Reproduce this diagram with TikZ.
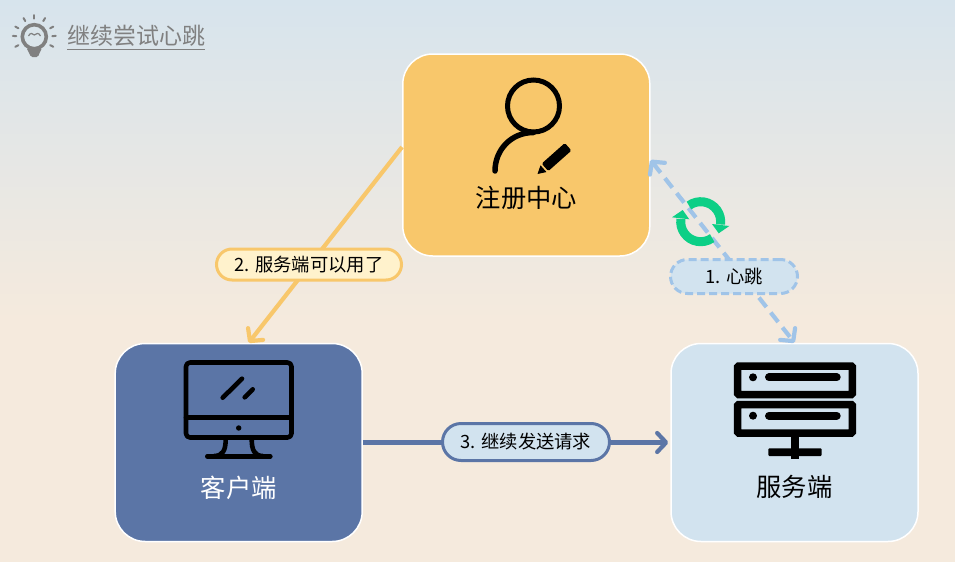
\documentclass[tikz,border=0pt]{standalone}
\usepackage{fontspec}
\setmainfont{Noto Sans CJK SC}
\usetikzlibrary{arrows.meta}
\definecolor{regcolor}{HTML}{F8C76B}
\definecolor{notifycolor}{HTML}{FFF2CC}
\definecolor{clientcolor}{HTML}{5B75A6}
\definecolor{servercolor}{HTML}{D2E3EF}
\definecolor{heartcolor}{HTML}{A0C4E8}
\definecolor{synccolor}{HTML}{0CCF86}
\definecolor{hintcolor}{HTML}{808080}
\definecolor{bgtop}{HTML}{D7E4ED}
\definecolor{bgbottom}{HTML}{F5EADD}

\begin{document}
\begin{tikzpicture}[
  x=1pt, y=-1pt,
  boxnode/.style={draw=white, line width=1.5pt, rounded corners=30pt, minimum width=247pt},
  boxlabel/.style={font=\fontsize{25.3}{25.3}\selectfont, inner sep=0pt},
  pilllabel/.style={line width=3pt, rounded corners=15.5pt, minimum height=31pt, inner sep=0pt, font=\fontsize{18.3}{18.3}\selectfont},
  link/.style={line width=4.2pt, -{Straight Barb[length=9pt,width=19pt,round]}},
  iconline/.style={line width=4.6pt, line cap=round, line join=round},
]

% Background
\shade[top color=bgtop, bottom color=bgbottom] (0,0) rectangle (955,320);
\fill[bgbottom] (0,319.5) rectangle (955,562);
\useasboundingbox (0,0) rectangle (955,560);

% Title with bulb
\coordinate (bulb) at (34.3,36.7);
\draw[hintcolor, line width=3.6pt] (bulb) circle[radius=12pt];
\foreach \a in {90,60,120,28,152,2,178,-28,208} {
  \draw[hintcolor, line width=2pt, line cap=round] ([shift={(\a:18pt)}]bulb) -- ([shift={(\a:21.5pt)}]bulb);
}
\draw[hintcolor, line width=1.2pt] (28.5,36) .. controls (30,32.5) and (33,33) .. (34.3,35) .. controls (36,33) and (39,32.5) .. (40.5,36);
\fill[hintcolor, rounded corners=1.5pt] (26.5,48) -- (42,48) -- (39.5,53) -- (38,57) -- (31,57) -- (29,53) -- cycle;
\node[text=hintcolor, font=\fontsize{23}{23}\selectfont, anchor=west, inner sep=0pt, minimum height=24pt] (title) at (67,36) {继续尝试心跳};
\draw[hintcolor, line width=1pt] ([yshift=-1pt]title.south west) -- ([yshift=-1pt]title.south east);

% Boxes
\node[boxnode, fill=regcolor, minimum height=202pt] (reg) at (526.3,155) {};
\node[boxnode, fill=clientcolor, minimum height=198pt] (client) at (238.7,442.5) {};
\node[boxnode, fill=servercolor, minimum height=198pt] (server) at (794.5,442.5) {};
\node[boxlabel] (reglabel) at (526.3,198) {注册中心};
\node[boxlabel, text=white] (clientlabel) at (238.7,488) {客户端};
\node[boxlabel] (serverlabel) at (794.5,486.5) {服务端};

% Connectors
\draw[link, regcolor] ([yshift=8pt]reg.west) -- ([xshift=10pt]client.north);
\draw[link, heartcolor, dash pattern=on 12pt off 7pt, {Straight Barb[length=9pt,width=19pt,round]}-{Straight Barb[length=9pt,width=19pt,round]}] ([yshift=-5pt]reg.east) -- (server.north);
\draw[link, clientcolor] (client.east) -- ([xshift=-2pt]server.west);

% Connector labels
\node[pilllabel, draw=regcolor, fill=notifycolor, minimum width=185pt] (notify) at (309,264.5) {2. 服务端可以用了};
\node[pilllabel, draw=heartcolor, fill=servercolor, dash pattern=on 8pt off 4pt, minimum width=127pt, minimum height=34pt, rounded corners=17pt] (heart) at (734,276.5) {1. 心跳};
\node[pilllabel, draw=clientcolor, fill=servercolor, minimum width=167pt, minimum height=37pt, rounded corners=18.5pt] (retry) at (526,442) {3. 继续发送请求};

% Sync icon
\coordinate (sync) at (700.7,221.7);
\draw[synccolor, line width=9pt] ([shift={(126:20pt)}]sync) arc[start angle=126, end angle=-8, radius=20pt];
\draw[synccolor, line width=9pt] ([shift={(-55:20pt)}]sync) arc[start angle=-55, end angle=-188, radius=20pt];
\fill[synccolor] (712,224) -- (729.3,226) -- (718.7,233.3) -- cycle;
\fill[synccolor] (689.3,219.3) -- (672,217.3) -- (682.7,210) -- cycle;

% Person icon
\draw[line width=5pt] (533.5,106) circle[radius=26pt];
\draw[line width=5.5pt, line cap=round] (533.5,132.5) .. controls (511,132.5) and (495,150) .. (495,171);
\begin{scope}[shift={(537.5,174)}, rotate=41.6]
  \fill (0,0) -- (8,-4.5) -- (8,4.5) -- cycle;
  \fill[rounded corners=1.5pt] (10,-5) -- (41,-5) -- (41,5) -- (10,5) -- cycle;
\end{scope}

% Monitor icon
\draw[iconline, rounded corners=4pt] (186,362.5) rectangle (291.5,437.5);
\draw[iconline] (186,417.7) -- (291.5,417.7);
\fill (238.7,428) circle[radius=2.7pt];
\draw[iconline] (222.7,397.7) -- (242,378.7);
\draw[iconline] (244.7,397.3) -- (252.7,389.3);
\draw[iconline] (207.3,456.3) -- (270.3,456.3);
\draw[line width=4.6pt] (225.7,439) .. controls (225.7,450) and (223,456) .. (214,456);
\draw[line width=4.6pt] (251.7,439) .. controls (251.7,450) and (254.4,456) .. (263,456);

% Server icon
\draw[line width=7.5pt, rounded corners=1pt] (737.7,366) rectangle (852.3,394.5);
\draw[line width=7.5pt, rounded corners=1pt] (737.7,404.5) rectangle (852.3,433);
\foreach \y in {377.3,415.7} {
  \fill (753,\y) circle[radius=4pt];
  \draw[line width=8pt, line cap=round] (769,\y) -- (836.7,\y);
}
\fill (791,436) rectangle (799,459.3);
\fill[rounded corners=1pt] (768.3,448.3) rectangle (821.7,456);

\end{tikzpicture}
\end{document}
